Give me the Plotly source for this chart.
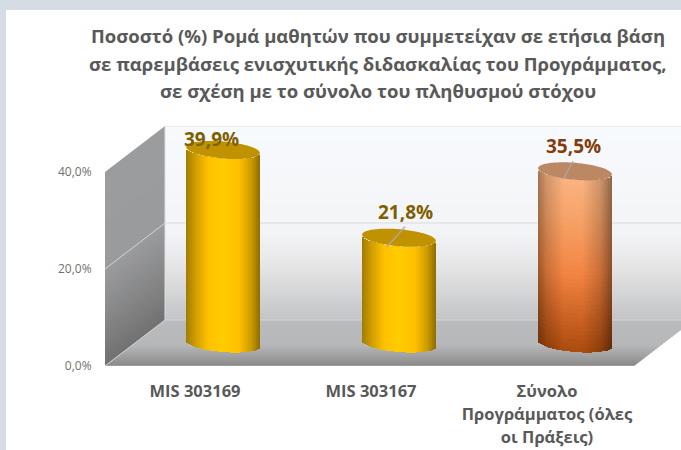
import numpy as np
import plotly.graph_objects as go

categories = ["MIS 303169", "MIS 303167", "Σύνολο<br>Προγράμματος (όλες<br>οι Πράξεις)"]
values = [39.9, 21.8, 35.5]
value_labels = ["39,9%", "21,8%", "35,5%"]
label_colors = ["#7F6000", "#7F6000", "#843C0C"]
cap_colors = ["#C09200", "#C09200", "#BC8763"]
y_ticks = [0, 20, 40]
title_lines = [
    "Ποσοστό (%) Ρομά μαθητών που συμμετείχαν σε ετήσια βάση",
    "σε παρεμβάσεις ενισχυτικής διδασκαλίας του Προγράμματος,",
    "σε σχέση με το σύνολο του πληθυσμού στόχου",
]

W, H = 681, 450
PLOT_L, PLOT_T, PLOT_B = 105, 126, 366
PX_PER_VAL = 4.85
PX_PER_CAT = 176
CAT0_PX = 195
DEPTH_X, DEPTH_Y = 60, 46
BAR_SHIFT = 28
BASE_VAL = 22.5 / PX_PER_VAL
A, B, TILT = 37.0, 8.5, np.radians(-5.0)


def X(px):
    return (px - CAT0_PX) / PX_PER_CAT


def V(px):
    return (PLOT_B - px) / PX_PER_VAL


def mix(c1, c2, t):
    return tuple(a + (b - a) * t for a, b in zip(c1, c2))


def ramp(stops, t):
    for (t0, c0), (t1, c1) in zip(stops, stops[1:]):
        if t <= t1:
            return mix(c0, c1, (t - t0) / max(t1 - t0, 1e-9))
    return stops[-1][1]


def rgb(c):
    return "rgb(%d,%d,%d)" % tuple(int(round(v)) for v in c)


tt = np.linspace(0, 2 * np.pi, 73)
ex = A * np.cos(tt) * np.cos(TILT) - B * np.sin(tt) * np.sin(TILT)
ey = A * np.cos(tt) * np.sin(TILT) + B * np.sin(tt) * np.cos(TILT)
half_w = ex.max()


def lower_edge(dx):
    fine = np.linspace(0, 2 * np.pi, 1441)
    fx = A * np.cos(fine) * np.cos(TILT) - B * np.sin(fine) * np.sin(TILT)
    fy = A * np.cos(fine) * np.sin(TILT) + B * np.sin(fine) * np.cos(TILT)
    near = np.abs(fx - dx) < 0.6
    return fy[near].min() if near.any() else 0.0


shapes = []


def poly(points, color, layer="below"):
    d = "M " + " L ".join(f"{X(px):.5f},{V(py):.4f}" for px, py in points) + " Z"
    shapes.append(dict(type="path", path=d, xref="x", yref="y", fillcolor=color,
                       layer=layer, line=dict(width=0)))


def seg(p0, p1, color, width=1, layer="below"):
    shapes.append(dict(type="line", xref="x", yref="y", layer=layer,
                       x0=X(p0[0]), y0=V(p0[1]), x1=X(p1[0]), y1=V(p1[1]),
                       line=dict(color=color, width=width)))


# white page inside the blue-grey frame
shapes.append(dict(type="rect", xref="paper", yref="paper", x0=6 / W, x1=1, y0=0, y1=1 - 10 / H,
                   fillcolor="#FFFFFF", line=dict(width=0), layer="below"))

RIGHT = W + 1
BACK_L = PLOT_L + DEPTH_X
BACK_B = PLOT_B - DEPTH_Y

wall_stops = [(0, (247, 250, 253)), (0.55, (243, 244, 246)), (0.70, (232, 232, 233)),
              (1, (196, 197, 198))]
rows = 64
for i in range(rows):
    y0 = PLOT_T + (BACK_B - PLOT_T) * i / rows
    y1 = PLOT_T + (BACK_B - PLOT_T) * (i + 1) / rows + 1
    poly([(BACK_L, y0), (RIGHT, y0), (RIGHT, y1), (BACK_L, y1)], rgb(ramp(wall_stops, i / (rows - 1))))

side_stops = [(0, (155, 156, 158)), (0.5, (154, 155, 157)), (0.78, (132, 132, 133)), (1, (112, 112, 112))]
rows = 50
top_v = 40.0
for i in range(rows):
    f0, f1 = i / rows, (i + 1) / rows
    h0 = top_v * (1 - f0) * PX_PER_VAL
    h1 = top_v * (1 - f1) * PX_PER_VAL - 1.5
    poly([(PLOT_L, PLOT_B - h0), (BACK_L, BACK_B - h0),
          (BACK_L, BACK_B - max(h1, 0)), (PLOT_L, PLOT_B - max(h1, 0))],
         rgb(ramp(side_stops, f0)))

floor_stops = [(0, (186, 187, 189)), (0.55, (182, 183, 185)), (0.8, (160, 160, 161)), (1, (138, 138, 138))]
rows = 23
slope = DEPTH_X / DEPTH_Y
for i in range(rows):
    y0 = BACK_B + DEPTH_Y * i / rows
    y1 = min(BACK_B + DEPTH_Y * (i + 1) / rows + 1, PLOT_B)
    xl0 = BACK_L - (y0 - BACK_B) * slope
    xl1 = BACK_L - (y1 - BACK_B) * slope
    xr0 = 694 - (y0 - BACK_B) * slope
    xr1 = 694 - (y1 - BACK_B) * slope
    poly([(xl0, y0), (xr0, y0), (xr1, y1), (xl1, y1)], rgb(ramp(floor_stops, i / (rows - 1))))

grid = "#DADBDD"
seg((BACK_L, PLOT_T), (RIGHT, PLOT_T), grid)
seg((BACK_L, PLOT_T + 97), (RIGHT, PLOT_T + 97), grid)
seg((BACK_L, BACK_B), (RIGHT, BACK_B), "#D4D5D7")
seg((BACK_L, PLOT_T), (BACK_L, BACK_B), "#DDDEE0")
seg((PLOT_L, PLOT_B - 97), (BACK_L, BACK_B - 97), "#D4D5D7")
seg((PLOT_L, PLOT_B), (BACK_L, BACK_B), "#D0D0D0")
seg((PLOT_L, PLOT_B + 0.5), (634, PLOT_B + 0.5), "#DCDCDC", 1.5)

gold_h = [(0, (160, 124, 0)), (0.12, (205, 156, 0)), (0.30, (255, 192, 0)), (0.5, (255, 204, 0)),
          (0.72, (255, 192, 0)), (0.88, (205, 156, 0)), (1, (140, 110, 0))]
orange_v = [(0, (172, 76, 14)), (0.2, (205, 100, 35)), (0.45, (242, 132, 66)),
            (0.75, (246, 160, 100)), (1, (250, 178, 128))]
shade_h = [(0, 0.66), (0.12, 0.84), (0.35, 1.0), (0.6, 1.0), (0.85, 0.82), (1, 0.58)]


def shade(t):
    for (t0, s0), (t1, s1) in zip(shade_h, shade_h[1:]):
        if t <= t1:
            return s0 + (s1 - s0) * (t - t0) / (t1 - t0)
    return shade_h[-1][1]


STRIP = 2
traces = []
for i, val in enumerate(values):
    centre_px = CAT0_PX + i * PX_PER_CAT + BAR_SHIFT
    xs, bases, heights, cols = [], [], [], []
    for dx in np.arange(-half_w + STRIP / 2, half_w, STRIP):
        t = (dx + half_w) / (2 * half_w)
        low = BASE_VAL + lower_edge(dx) / PX_PER_VAL
        if i < 2:
            xs.append(X(centre_px + dx)); bases.append(low); heights.append(val)
            cols.append(rgb(ramp(gold_h, t)))
        else:
            n = 40
            s = shade(t)
            for k in range(n):
                xs.append(X(centre_px + dx))
                bases.append(low + val * k / n)
                heights.append(val / n * 1.03)
                c = ramp(orange_v, k / (n - 1))
                cols.append(rgb(tuple(v * s for v in c)))
    traces.append(go.Bar(x=xs, y=heights, base=bases, width=[STRIP / PX_PER_CAT] * len(xs),
                         marker=dict(color=cols, line=dict(width=0)), showlegend=False,
                         hoverinfo="skip"))
    top_px = PLOT_B - (BASE_VAL + val) * PX_PER_VAL
    poly([(centre_px + a, top_px - b) for a, b in zip(ex, ey)], cap_colors[i], layer="above")

leader = "#A9A9A9"
for i, (dx0, dy0, dx1, dy1) in {1: (6, -11, -12, 9), 2: (-2, -10, -12, 8)}.items():
    centre_px = CAT0_PX + i * PX_PER_CAT + BAR_SHIFT
    top_px = PLOT_B - (BASE_VAL + values[i]) * PX_PER_VAL
    seg((centre_px + dx0, top_px + dy0), (centre_px + dx1, top_px + dy1), leader, 1.2, layer="above")

fig = go.Figure(traces)

label_offsets = [(-12, 11), (6, 26), (-2, 25)]
annotations = []
for i, val in enumerate(values):
    centre_px = CAT0_PX + i * PX_PER_CAT + BAR_SHIFT
    ox, oy = label_offsets[i]
    annotations.append(dict(x=X(centre_px + ox), y=BASE_VAL + val, xref="x", yref="y",
                            yshift=oy, text=f"<b>{value_labels[i]}</b>", showarrow=False,
                            font=dict(family="Open Sans", size=19, color=label_colors[i])))
for line, py in zip(title_lines, (36, 63, 91)):
    annotations.append(dict(x=378 / W, y=1 - py / H, xref="paper", yref="paper", xanchor="center",
                            yanchor="middle", text=f"<b>{line}</b>", showarrow=False,
                            font=dict(family="Open Sans", size=18.5, color="#595959")))

fig.update_layout(
    template="none",
    width=W, height=H, autosize=False,
    margin=dict(l=0, r=0, t=0, b=0),
    paper_bgcolor="#D6DCE5", plot_bgcolor="rgba(0,0,0,0)",
    barmode="overlay", separators=",.", bargap=0, showlegend=False,
    xaxis=dict(domain=[PLOT_L / W, 1], range=[X(PLOT_L), X(W)], showgrid=False, zeroline=False,
               automargin=False, tickmode="array", tickvals=[0, 1, 2],
               ticktext=[f'<b><span style="font-size:16.5px">{c}</span></b>'.replace(
                   "<br>", '</span></b><br><b><span style="font-size:16.5px">') for c in categories],
               ticks="outside", ticklen=8, tickcolor="rgba(0,0,0,0)", showline=False,
               tickfont=dict(family="Open Sans", size=18, color="#595959"), tickangle=0),
    yaxis=dict(domain=[(H - PLOT_B) / H, (H - PLOT_T) / H], range=[0, V(PLOT_T)], showgrid=False,
               zeroline=False, automargin=False, tickmode="linear", tick0=y_ticks[0],
               dtick=y_ticks[1] - y_ticks[0], tickformat=".1f", ticksuffix="%",
               ticks="outside", ticklen=10, tickcolor="rgba(0,0,0,0)", showline=False,
               tickfont=dict(family="Open Sans", size=12, color="#707070")),
    shapes=shapes, annotations=annotations,
)

fig.write_html("out.html", post_script="document.body.style.margin='0';document.body.style.overflow='hidden';",
               config={"displayModeBar": False})
